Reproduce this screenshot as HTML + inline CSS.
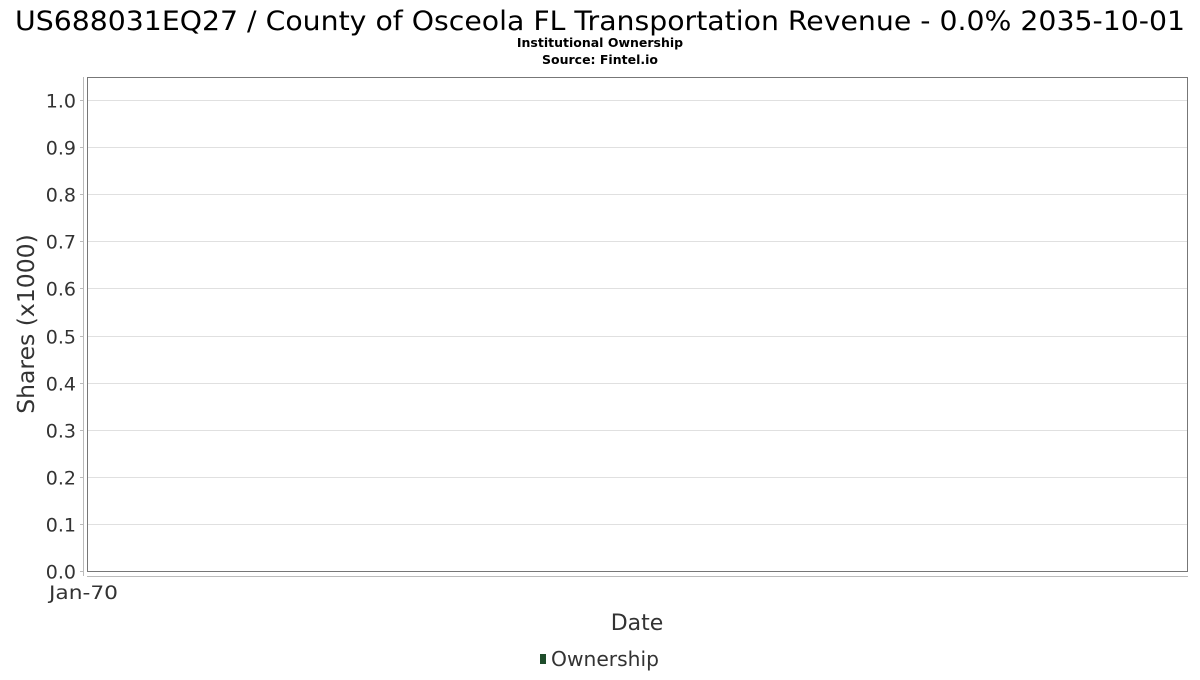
<!DOCTYPE html>
<html><head><meta charset="utf-8"><style>
body{margin:0;background:#fff;}
svg text{font-family:"DejaVu Sans","Liberation Sans",sans-serif;fill:#333;}
</style></head><body>
<svg width="1200" height="675" viewBox="0 0 1200 675" xmlns="http://www.w3.org/2000/svg">
<rect width="1200" height="675" fill="#fff"/>
<text x="15" y="30" font-size="27" textLength="1170" lengthAdjust="spacingAndGlyphs" style="fill:#000">US688031EQ27 / County of Osceola FL Transportation Revenue - 0.0% 2035-10-01</text>
<text x="600" y="47" font-size="12.5" font-weight="bold" text-anchor="middle" style="fill:#000">Institutional Ownership</text>
<text x="600" y="64" font-size="12.5" font-weight="bold" text-anchor="middle" style="fill:#000">Source: Fintel.io</text>
<g id="grid"></g>
<rect x="87.5" y="77.5" width="1100" height="494" fill="none" stroke="#777" stroke-width="1"/>
<line x1="83.5" y1="77" x2="83.5" y2="576" stroke="#bbb"/>
<line x1="87" y1="576.5" x2="1188" y2="576.5" stroke="#bbb"/>
<g id="yticks"></g>
<text x="49" y="599" font-size="19" textLength="69" lengthAdjust="spacingAndGlyphs">Jan-70</text>
<text x="637" y="630" font-size="22" text-anchor="middle">Date</text>
<text transform="translate(34,324) rotate(-90)" font-size="23.5" text-anchor="middle">Shares (x1000)</text>
<g>
<rect x="540" y="654" width="6" height="10" fill="#1e4d2b"/>
<text x="551" y="666" font-size="20" textLength="108" lengthAdjust="spacingAndGlyphs">Ownership</text>
</g>
</svg>
<script>
const yTicks=[0.0,0.1,0.2,0.3,0.4,0.5,0.6,0.7,0.8,0.9,1.0];
const yMin=0,yMax=1;
function yPos(v){return 571-(v-yMin)/(yMax-yMin)*471;}
const ns="http://www.w3.org/2000/svg";
const g=document.getElementById('grid'),yt=document.getElementById('yticks');
yTicks.forEach(v=>{
  const y=Math.round(yPos(v))+0.5;
  if(v>0){
    const l=document.createElementNS(ns,'line');
    
    
    l.setAttribute('x1',88);l.setAttribute('x2',1188);l.setAttribute('y1',y);l.setAttribute('y2',y);
    l.setAttribute('stroke','#e0e0e0');g.appendChild(l);
  }
  const tk=document.createElementNS(ns,'line');
  
  
  tk.setAttribute('x1',80);tk.setAttribute('x2',84);tk.setAttribute('y1',y);tk.setAttribute('y2',y);
  tk.setAttribute('stroke','#bbb');yt.appendChild(tk);
  const t=document.createElementNS(ns,'text');
  
  
  t.setAttribute('x',76);t.setAttribute('y',y+7);t.setAttribute('font-size','19');
  t.setAttribute('text-anchor','end');t.textContent=v.toFixed(1);yt.appendChild(t);
});
</script>
</body></html>
